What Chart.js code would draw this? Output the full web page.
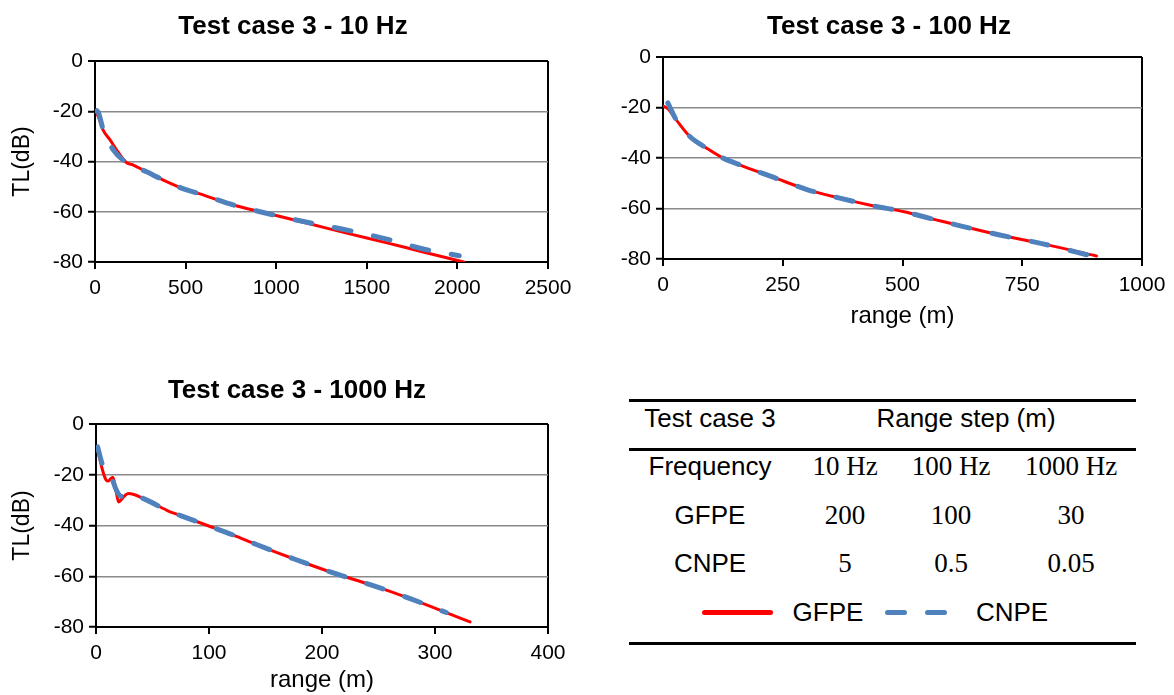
<!DOCTYPE html>
<html>
<head>
<meta charset="utf-8">
<script src="https://cdn.jsdelivr.net/npm/chart.js@4/dist/chart.umd.min.js"></script>
<style>
  html, body { margin: 0; padding: 0; background: #fff; }
  body { width: 1174px; height: 695px; position: relative; overflow: hidden; font-family: "Liberation Sans", Arial, sans-serif; color: #000; }
  canvas { position: absolute; }
  .t { position: absolute; transform: translate(-50%, -50%); white-space: nowrap; line-height: 1; }
  .title { font-size: 26px; font-weight: bold; }
  .sans { font-size: 26px; }
  .serif { font-family: "Liberation Serif", "DejaVu Serif", serif; font-size: 27px; }
  .rule { position: absolute; left: 629px; width: 507px; height: 3px; background: #000; }
  .key { position: absolute; height: 5px; border-radius: 2.5px; }
</style>
</head>
<body>
<canvas id="c1" width="586" height="300" style="left:0px;top:0px"></canvas>
<canvas id="c2" width="584" height="340" style="left:590px;top:0px"></canvas>
<canvas id="c3" width="594" height="335" style="left:0px;top:360px"></canvas>

<div class="t title" style="left:293px;top:25px">Test case 3 - 10 Hz</div>
<div class="t title" style="left:889px;top:25px">Test case 3 - 100 Hz</div>
<div class="t title" style="left:297px;top:389px">Test case 3 - 1000 Hz</div>

<div class="rule" style="top:399px"></div>
<div class="rule" style="top:448px"></div>
<div class="rule" style="top:642px"></div>

<div id="table"></div>

<script>
// ---------- data ----------
const yTicks = [0, -20, -40, -60, -80];
const xTicks10 = [0, 500, 1000, 1500, 2000, 2500];
const xTicks100 = [0, 250, 500, 750, 1000];
const xTicks1000 = [0, 100, 200, 300, 400];

// 10 Hz
const r10Gfpe  = [5, 20, 45, 83, 130, 175, 211, 285, 377, 493, 579, 763, 911, 1000, 1200, 1400, 1600, 1800, 2035];
const tl10Gfpe = [-20, -22.5, -27.5, -31.4, -36.5, -40.5, -41.4, -44.1, -47.4, -51, -52.9, -57.3, -60, -61.5, -65.1, -68.7, -72.2, -75.8, -80];
const r10Cnpe  = [10, 18, 46, 101, 175, 285, 377, 493, 579, 763, 911, 1000, 1177, 1398, 1611, 1823, 2010];
const tl10Cnpe = [-19.8, -20.4, -27.5, -35.4, -40.5, -44.1, -47.4, -51, -52.9, -57.3, -60, -61.5, -64.3, -67.4, -70.9, -75, -77.5];

// 100 Hz
const r100Gfpe  = [1, 10, 28, 56, 91, 125, 160, 230, 299, 369, 438, 501, 570, 703, 793, 905];
const tl100Gfpe = [-19.5, -20.5, -25, -31.5, -36.1, -40, -42.7, -47.6, -52.4, -55.9, -58.9, -61.2, -64.5, -70.5, -74, -78.8];
const r100Cnpe  = [10, 28, 56, 91, 125, 160, 230, 299, 369, 438, 501, 570, 703, 793, 895];
const tl100Cnpe = [-18.2, -25, -31.5, -36.1, -40, -42.7, -47.6, -52.4, -55.9, -58.9, -61.2, -64.5, -70.5, -74, -78.8];

// 1000 Hz
const r1000Gfpe  = [1, 4, 7, 9, 11, 13, 15, 18, 20, 22, 24.4, 28.8, 43.6, 62.7, 76, 98, 121.6, 142, 176, 210, 244, 278, 310, 331];
const tl1000Gfpe = [-9, -15, -20, -22.1, -22.5, -21.5, -21, -27, -30.7, -30, -28.7, -27.4, -29.7, -34, -36.3, -39.9, -43.8, -47.5, -53.3, -58.7, -63.5, -68.8, -74.3, -78];
const r1000Cnpe  = [1.4, 5.3, 9, 12.6, 18, 22, 28.8, 43.6, 62.7, 76, 98, 121.6, 142, 176, 210, 244, 278, 310];
const tl1000Cnpe = [-9, -15.5, -20, -20.5, -26, -28.5, -27.4, -29.7, -34, -36.3, -39.9, -43.8, -47.5, -53.3, -58.7, -63.5, -68.8, -74.3];

// table
const tableHeader = ["Test case 3", "Range step (m)"];
const frequencies = ["10 Hz", "100 Hz", "1000 Hz"];
const gfpeSteps = ["200", "100", "30"];
const cnpeSteps = ["5", "0.5", "0.05"];
const seriesNames = ["GFPE", "CNPE"];

// ---------- styles ----------
const RED = '#FF0000', BLUE = '#4F81BD', GRID = '#8a8a8a';
const FONT = 'Liberation Sans';

function pts(xs, ys) { return xs.map((x, i) => ({ x: x, y: ys[i] })); }

function makeChart(id, o) {
  const canvas = document.getElementById(id);
  const L = parseFloat(canvas.style.left), T = parseFloat(canvas.style.top);
  const W = canvas.width, H = canvas.height;
  const xMax = o.xTicks[o.xTicks.length - 1];
  return new Chart(canvas, {
    type: 'line',
    data: {
      datasets: [
        { label: seriesNames[1], data: pts(o.cx, o.cy), borderColor: BLUE, borderWidth: 5,
          borderDash: [17, 23], borderCapStyle: 'round', borderJoinStyle: 'round',
          pointRadius: 0, fill: false, cubicInterpolationMode: 'monotone' },
        { label: seriesNames[0], data: pts(o.gx, o.gy), borderColor: RED, borderWidth: 3,
          borderCapStyle: 'round', borderJoinStyle: 'round',
          pointRadius: 0, fill: false, cubicInterpolationMode: 'monotone' }
      ]
    },
    options: {
      responsive: false, animation: false, devicePixelRatio: 1,
      layout: { padding: { top: o.top - T, right: L + W - o.right, bottom: 0, left: 0 } },
      plugins: { legend: { display: false }, title: { display: false }, tooltip: { enabled: false } },
      scales: {
        x: {
          type: 'linear', min: o.xTicks[0], max: xMax,
          afterBuildTicks: s => { s.ticks = o.xTicks.map(v => ({ value: v })); },
          afterFit: s => { s.height = T + H - o.bottom; },
          ticks: { color: '#000', font: { family: FONT, size: 21 }, padding: 7, maxRotation: 0,
                   callback: v => String(v) },
          grid: { drawOnChartArea: true, tickLength: 7, tickWidth: 2, tickColor: '#000', lineWidth: 2,
                  color: c => (c.tick && c.tick.value === xMax) ? '#000' : 'rgba(0,0,0,0)' },
          border: { display: true, color: '#000', width: 2 },
          title: { display: !!o.xTitle, text: o.xTitle || '', color: '#000',
                   font: { family: FONT, size: 24 }, padding: { top: 0, bottom: o.xTitlePad || 0 } }
        },
        y: {
          type: 'linear', min: -80, max: 0,
          afterBuildTicks: s => { s.ticks = yTicks.map(v => ({ value: v })); },
          afterFit: s => { s.width = o.left - L; },
          ticks: { color: '#000', font: { family: FONT, size: 21 }, padding: 5, callback: v => String(v) },
          grid: { drawOnChartArea: true, tickLength: 7, tickWidth: 2, tickColor: '#000',
                  lineWidth: c => (c.tick && c.tick.value === 0) ? 2 : 1.5,
                  color: c => (c.tick && c.tick.value === 0) ? '#000' : ((c.tick && c.tick.value === -80) ? 'rgba(0,0,0,0)' : GRID) },
          border: { display: true, color: '#000', width: 2 },
          title: { display: !!o.yTitle, text: o.yTitle || '', color: '#000',
                   font: { family: FONT, size: 23 }, padding: { top: 9, bottom: 0 } }
        }
      }
    }
  });
}

makeChart('c1', { xTicks: xTicks10, gx: r10Gfpe, gy: tl10Gfpe, cx: r10Cnpe, cy: tl10Cnpe,
  left: 95, right: 548, top: 61, bottom: 262, yTitle: 'TL(dB)' });
makeChart('c2', { xTicks: xTicks100, gx: r100Gfpe, gy: tl100Gfpe, cx: r100Cnpe, cy: tl100Cnpe,
  left: 663, right: 1142, top: 57, bottom: 259, xTitle: 'range (m)', xTitlePad: 9 });
makeChart('c3', { xTicks: xTicks1000, gx: r1000Gfpe, gy: tl1000Gfpe, cx: r1000Cnpe, cy: tl1000Cnpe,
  left: 96, right: 548, top: 424, bottom: 627, yTitle: 'TL(dB)', xTitle: 'range (m)', xTitlePad: 0 });

// ---------- table ----------
(function () {
  const host = document.getElementById('table');
  const colX = [710, 845, 951, 1071];
  const rowY = [418, 466, 515, 563];
  function txt(s, x, y, cls) {
    const d = document.createElement('div');
    d.className = 't ' + cls; d.textContent = s;
    d.style.left = x + 'px'; d.style.top = y + 'px';
    host.appendChild(d);
  }
  txt(tableHeader[0], colX[0], rowY[0], 'sans');
  txt(tableHeader[1], 966, rowY[0], 'sans');
  txt('Frequency', colX[0], rowY[1], 'sans');
  frequencies.forEach((f, i) => txt(f, colX[i + 1], rowY[1], 'serif'));
  txt(seriesNames[0], colX[0], rowY[2], 'sans');
  gfpeSteps.forEach((v, i) => txt(v, colX[i + 1], rowY[2], 'serif'));
  txt(seriesNames[1], colX[0], rowY[3], 'sans');
  cnpeSteps.forEach((v, i) => txt(v, colX[i + 1], rowY[3], 'serif'));
  // legend
  function key(x, w, color) {
    const k = document.createElement('div');
    k.className = 'key'; k.style.left = x + 'px'; k.style.width = w + 'px';
    k.style.top = '610px'; k.style.background = color;
    host.appendChild(k);
  }
  key(702, 71, RED);
  key(885, 22, BLUE);
  key(925, 22, BLUE);
  txt(seriesNames[0], 828, 612, 'sans');
  txt(seriesNames[1], 1012, 612, 'sans');
})();
</script>
</body>
</html>
